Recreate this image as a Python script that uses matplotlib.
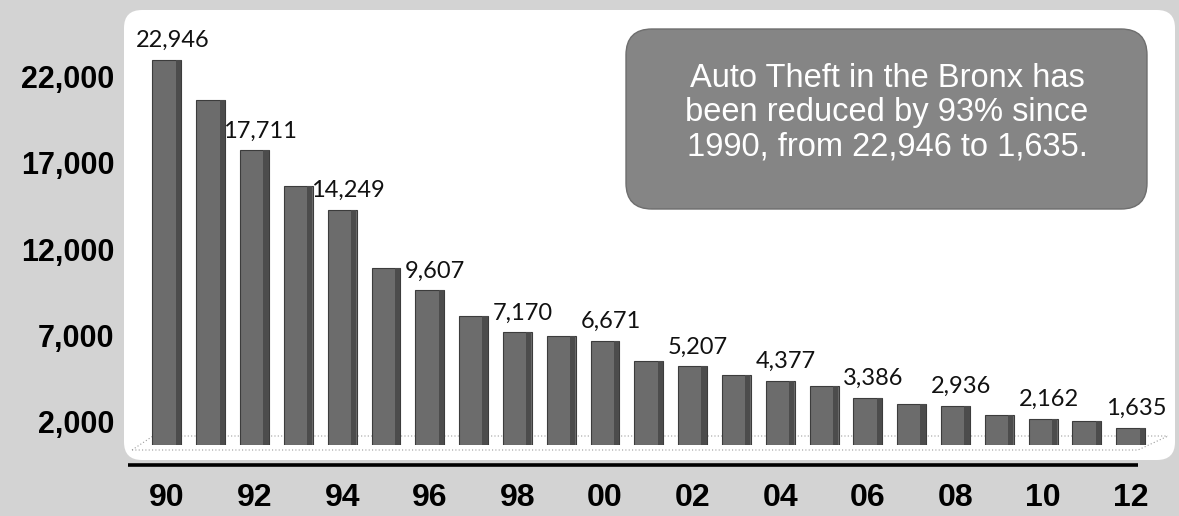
import matplotlib
matplotlib.use("Agg")
import matplotlib.pyplot as plt
from matplotlib.patches import FancyBboxPatch

# ---- data ----
year_labels = ["90", "", "92", "", "94", "", "96", "", "98", "", "00", "",
               "02", "", "04", "", "06", "", "08", "", "10", "", "12"]
thefts = [22946, 20630, 17711, 15640, 14249, 10900, 9607, 8130, 7170, 6960,
          6671, 5520, 5207, 4700, 4377, 4050, 3386, 3000, 2936, 2400, 2162,
          2050, 1635]
labeled_idx = list(range(0, 23, 2))
y_ticks = [2000, 7000, 12000, 17000, 22000]
note = "Auto Theft in the Bronx has\nbeen reduced by 93% since\n1990, from 22,946 to 1,635."

W, H = 1179, 516
fig = plt.figure(figsize=(W / 100, H / 100), dpi=100)
fig.patch.set_facecolor("#d3d3d3")

# decoration canvas in pixel coords
bg = fig.add_axes([0, 0, 1, 1], zorder=0)
bg.set_xlim(0, W)
bg.set_ylim(H, 0)
bg.axis("off")
bg.add_patch(FancyBboxPatch((124, 10), 1175 - 124, 450, boxstyle="round,pad=0,rounding_size=18",
                            facecolor="white", edgecolor="none"))
# floor (perspective plane)
bg.plot([132, 153, 1168], [450, 436, 436], ls=(0, (1, 2)), color="#9a9a9a", lw=0.8)
bg.plot([132, 1138, 1168], [450, 450, 436], ls=(0, (1, 2)), color="#9a9a9a", lw=0.8)
# thick baseline
bg.plot([128, 1138], [465, 465], color="black", lw=2.6, solid_capstyle="butt")
# annotation box
bg.add_patch(FancyBboxPatch((626, 29), 521, 180, boxstyle="round,pad=0,rounding_size=26",
                            facecolor="#858585", edgecolor="#6e6e6e", lw=1))
bg.text(887, 113, note, ha="center", va="center", color="white", fontsize=23.5,
        family=["Liberation Sans", "DejaVu Sans"], linespacing=1.14)

# main chart axes
ax = fig.add_axes([124 / W, (H - 445) / H, (1175 - 124) / W, (445 - 10) / H], zorder=1)
ax.set_facecolor("none")
x = list(range(len(thefts)))
ax.bar(x, thefts, width=0.66, color="#6c6c6c", edgecolor="#3c3c3c", lw=0.8)
ax.bar([i + 0.26 for i in x], thefts, width=0.12, color="#4c4c4c", edgecolor="none")
ax.set_xlim(-0.98, 23.01)
ax.set_ylim(654, 25841)
for s in ax.spines.values():
    s.set_visible(False)

ax.set_yticks(y_ticks)
ax.set_yticklabels([f"{v:,}" for v in y_ticks], fontsize=22, fontweight="bold",
                   family=["Liberation Sans", "DejaVu Sans"])
ax.set_xticks(x)
ax.set_xticklabels(year_labels, fontsize=23, fontweight="bold",
                   family=["Liberation Sans", "DejaVu Sans"])
ax.tick_params(axis="y", length=0, pad=7)
ax.tick_params(axis="x", length=0, pad=27)

for i in labeled_idx:
    ax.annotate(f"{thefts[i]:,}", (i, thefts[i]), xytext=(4, 14), textcoords="offset points",
                ha="center", va="center", fontsize=17,
                family=["Lato", "DejaVu Sans"], color="#111111")

fig.savefig("out.png", dpi=100, facecolor=fig.get_facecolor())
